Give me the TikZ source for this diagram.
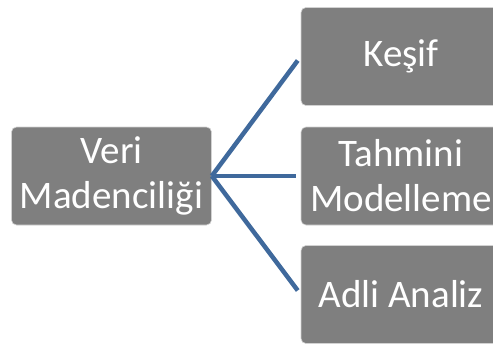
\documentclass[tikz,border=0pt]{standalone}
\usepackage{fontspec}
\setmainfont{Carlito}
\definecolor{boxgray}{HTML}{7F7F7F}
\definecolor{linkblue}{HTML}{3F699C}
\begin{document}
\begin{tikzpicture}[x=1pt,y=-1pt,
  topic/.style={rectangle, rounded corners=5pt, fill=boxgray, draw=gray!35,
    line width=0.6pt, minimum width=200pt, minimum height=98pt, inner sep=0pt,
    text=white, align=center, font=\fontsize{39}{45}\selectfont},
  link/.style={draw=linkblue, line width=4.5pt, shorten >=5pt}]
  \clip (0,0) rectangle (493,343);
  \useasboundingbox (0,0) rectangle (493,343);
  % central topic
  \node[topic] (root) at (111.5,176) {Veri\\Madenciliği};
  % branches
  \node[topic] (kesif) at (401,56.5) {Keşif};
  \node[topic] (tahmin) at (401,176) {Tahmini\\Modelleme};
  \node[topic] (adli) at (401,294.5) {Adli Analiz};
  % connectors
  \draw[link] (root.east) -- (kesif.west);
  \draw[link] (root.east) -- (tahmin.west);
  \draw[link] (root.east) -- (adli.west);
\end{tikzpicture}
\end{document}
